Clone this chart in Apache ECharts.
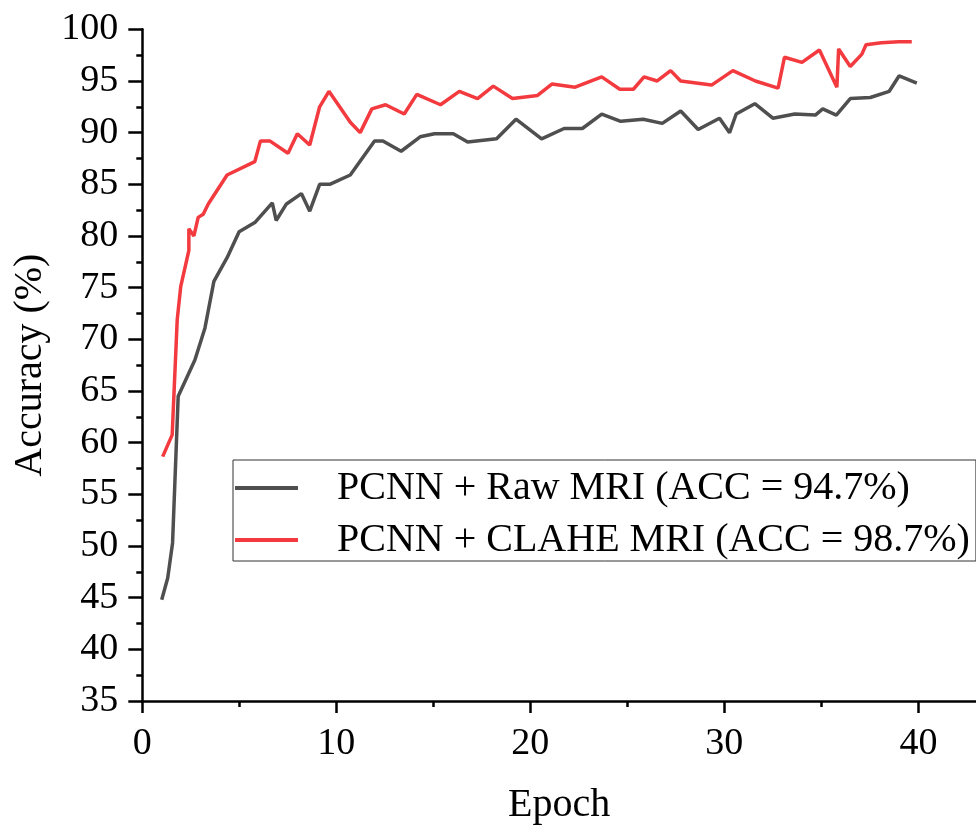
<!DOCTYPE html>
<html>
<head>
<meta charset="utf-8">
<script src="https://cdn.jsdelivr.net/npm/echarts@6/dist/echarts.min.js"></script>
<style>
  html, body { margin: 0; padding: 0; background: #fff; }
  #main { width: 976px; height: 825px; }
</style>
</head>
<body>
<div id="main"></div>
<script>
// values
var rawEpoch = [1.0, 1.31, 1.56, 1.85, 2.71, 3.23, 3.69, 4.37, 4.99, 5.8, 6.7, 6.9, 7.43, 8.2, 8.63, 9.14, 9.66, 10.72, 11.97, 12.4,
    13.34, 14.32, 15.06, 16.03, 16.77, 18.26, 19.26, 20.58, 21.74, 22.68, 23.68, 24.66, 25.82, 26.8, 27.75, 28.65, 29.75, 30.27,
    30.61, 31.57, 32.5, 33.63, 34.69, 35.07, 35.77, 36.49, 37.52, 38.5, 39.01, 39.92];
var rawAcc = [44.8, 46.9, 50.3, 64.5, 68.0, 71.1, 75.6, 77.9, 80.4, 81.3, 83.2, 81.5, 83.1, 84.1, 82.4, 85.0, 85.0, 85.9, 89.2, 89.2,
    88.2, 89.6, 89.9, 89.9, 89.1, 89.4, 91.3, 89.4, 90.4, 90.4, 91.8, 91.1, 91.3, 90.9, 92.1, 90.3, 91.4, 90.0,
    91.8, 92.8, 91.4, 91.8, 91.7, 92.3, 91.7, 93.3, 93.4, 94.0, 95.5, 94.8];

var claheEpoch = [1.05, 1.54, 1.80, 1.98, 2.4, 2.4, 2.66, 2.88, 3.14, 3.40, 4.37, 5.8, 6.09, 6.57, 7.51, 7.99, 8.63, 9.14, 9.62,
    10.72, 11.23, 11.83, 12.54, 13.5, 14.15, 15.37, 16.34, 17.28, 18.09, 19.08, 20.37, 21.11, 22.31, 23.68, 24.61, 25.31,
    25.86, 26.54, 27.23, 27.75, 29.34, 30.44, 31.6, 32.77, 33.1, 34.0, 34.9, 35.8, 35.89, 36.49, 37.09, 37.3, 38.09, 38.98, 39.66];
var claheAcc = [58.65, 60.75, 71.9, 75.1, 78.6, 80.7, 80.0, 81.8, 82.1, 83.1, 85.9, 87.2, 89.2, 89.2, 88.0, 89.9, 88.8, 92.5, 94.0,
    91.0, 90.0, 92.3, 92.7, 91.8, 93.7, 92.7, 94.0, 93.3, 94.5, 93.3, 93.6, 94.7, 94.4, 95.4, 94.2, 94.2,
    95.4, 95.0, 96.0, 95.0, 94.6, 96.0, 95.0, 94.3, 97.3, 96.8, 98.0, 94.4, 98.1, 96.4, 97.6, 98.5, 98.7, 98.8, 98.8];

var xMajorTicks = [0, 10, 20, 30, 40];
var xMinorTicks = [5, 15, 25, 35];

var seriesNames = ['PCNN + Raw MRI (ACC = 94.7%)', 'PCNN + CLAHE MRI (ACC = 98.7%)'];

function pairs(xs, ys) {
    var out = [];
    for (var i = 0; i < xs.length; i++) out.push([xs[i], ys[i]]);
    return out;
}

var font = "'Liberation Serif', 'Times New Roman', serif";
var axisStyle = { color: '#000', width: 2.5 };

var myChart = echarts.init(document.getElementById('main'));

option = {
    backgroundColor: '#fff',
    animation: false,
    grid: {
        left: 142.3,
        top: 29.3,
        right: 0,
        bottom: 124,
        outerBoundsMode: 'none'
    },
    legend: {
        orient: 'vertical',
        left: 233,
        top: 460,
        selectedMode: false,
        icon: 'rect',
        itemWidth: 63,
        itemHeight: 4,
        itemGap: 10,
        padding: [7, 6, 0, 2],
        borderColor: '#333',
        borderWidth: 1,
        textStyle: {
            fontFamily: font,
            fontSize: 40,
            color: '#000',
            lineHeight: 42,
            padding: [0, 0, 0, 34]
        },
        data: seriesNames
    },
    xAxis: [
        {
            type: 'value',
            min: 0,
            max: 42.97,
            name: 'Epoch',
            nameLocation: 'middle',
            nameGap: 84,
            nameTextStyle: { fontFamily: font, fontSize: 40, color: '#000' },
            axisLine: { lineStyle: axisStyle },
            axisTick: { show: true, length: 12, lineStyle: axisStyle, customValues: xMajorTicks },
            axisLabel: { fontFamily: font, fontSize: 38, color: '#000', margin: 24, customValues: xMajorTicks },
            splitLine: { show: false }
        },
        {
            type: 'value',
            min: 0,
            max: 42.97,
            position: 'bottom',
            axisLine: { show: false },
            axisTick: { show: true, length: 6, lineStyle: axisStyle, customValues: xMinorTicks },
            axisLabel: { show: false },
            splitLine: { show: false }
        }
    ],
    yAxis: {
        type: 'value',
        min: 35,
        max: 100,
        interval: 5,
        name: 'Accuracy (%)',
        nameLocation: 'middle',
        nameGap: 82,
        nameTextStyle: { fontFamily: font, fontSize: 40, color: '#000' },
        axisLine: { show: true, lineStyle: axisStyle },
        axisTick: { show: true, length: 14, lineStyle: axisStyle },
        minorTick: { show: true, splitNumber: 2, length: 6, lineStyle: axisStyle },
        axisLabel: { fontFamily: font, fontSize: 38, color: '#000', margin: 24 },
        splitLine: { show: false }
    },
    series: [
        {
            name: seriesNames[0],
            type: 'line',
            color: '#4f4f4f',
            symbol: 'none',
            lineStyle: { width: 3.5, color: '#4f4f4f' },
            data: pairs(rawEpoch, rawAcc)
        },
        {
            name: seriesNames[1],
            type: 'line',
            color: '#f23a3f',
            symbol: 'none',
            lineStyle: { width: 3.5, color: '#f23a3f' },
            data: pairs(claheEpoch, claheAcc)
        }
    ]
};
myChart.setOption(option);
</script>
</body>
</html>
